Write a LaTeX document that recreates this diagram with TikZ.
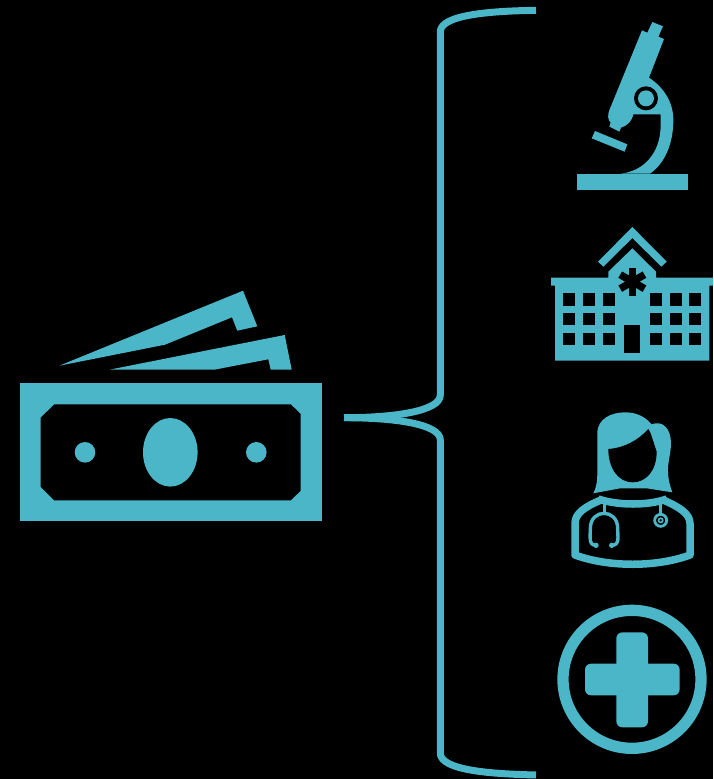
\documentclass[tikz,border=0pt]{standalone}
\definecolor{iconteal}{RGB}{74, 182, 200}
\usetikzlibrary{calc}
\tikzset{
    icon/.style={fill=iconteal,draw=none},
    cutout/.style={fill=black,draw=none},
    bracket/.style={draw=iconteal,line width=7pt},
    outline/.style={draw=iconteal,line width=7.5pt,line join=round},
    tube/.style={draw=iconteal,line width=3.4pt}
}

\begin{document}
\begin{tikzpicture}[x=1pt,y=-1pt]
    \useasboundingbox (0,0) rectangle (713,779);
    \fill[black] (0,0) rectangle (713,779);

    % money
    \fill[icon] (20,383.3) rectangle (321.7,520.7);
    \fill[cutout] (54.3,404.3) -- (290.7,404.3) -- (300.7,414) -- (300.7,490.7) -- (290.7,500.3)
        -- (54.3,500.3) -- (40.7,486.7) -- (40.7,417.7) -- cycle;
    \fill[icon] (170.3,452.3) ellipse (27.3 and 34.3);
    \fill[icon] (85,452.3) circle (10.3);
    \fill[icon] (256.3,452.3) circle (10.3);
    \fill[icon] (59.3,365.7) -- (243,290.7) -- (257.3,326.3) -- (237.3,330.7) -- (232,317.3) -- (165,344.7) -- cycle;
    \fill[icon] (109.3,369.7) -- (284.7,335) -- (291.7,369.7) -- (270.7,369.7) -- (268.3,359.3) -- (214.3,369.7) -- cycle;

    % bracket
    \coordinate (tip) at (344,417.7);
    \coordinate (top) at (536,10.3);
    \coordinate (bottom) at (536,775);
    \draw[bracket] (top) .. controls (495,11) and (440,14) .. (440.3,32) -- (440.3,395)
        .. controls (440.3,411) and (395,417.7) .. (tip);
    \draw[bracket] (tip) .. controls (395,417.7) and (440.3,424) .. (440.3,440) -- (440.3,753)
        .. controls (440,771) and (495,774) .. (bottom);

    % microscope
    \begin{scope}[shift={(540,10)},scale=1/3]
        \fill[icon] (111,491) rectangle (443,539);
        \fill[icon] (165,363) -- (262,403) -- (254,425) -- (155,385) -- cycle;
        \fill[icon] (306,61) -- (322,68) -- (337,36) -- (369,49) -- (355,80) -- (372,87) -- (327,203)
            .. controls (375,235) and (400,280) .. (400,330)
            .. controls (400,400) and (375,460) .. (330,491) -- (240,491)
            .. controls (310,485) and (362,430) .. (362,345) -- (362,313) -- (280,313)
            .. controls (275,335) and (262,347) .. (243,353) -- (238,365) -- (208,350) -- (212,338)
            .. controls (203,330) and (203,315) .. (207,303) -- cycle;
        \fill[cutout] (318,265) circle (36);
        \fill[icon] (318,265) circle (24);
    \end{scope}

    % hospital
    \begin{scope}[shift={(540,215)},scale=1/3]
        \fill[icon] (277,36) -- (380,140) -- (364,155) -- (277,69) -- (190,155) -- (174,140) -- cycle;
        \fill[icon] (277,100) -- (348,170) -- (348,188) -- (519,188) -- (519,212) -- (508,212) -- (508,437)
            -- (45,437) -- (45,212) -- (33,212) -- (33,188) -- (205,188) -- (205,170) -- cycle;
        \foreach \a in {0,60,120}
            \fill[cutout,rotate around={\a:(277,200)}] (266,158) rectangle (288,242);
        \foreach \x in {69,129,188,330,389,448}
            \foreach \y in {235,294,354}
                \fill[cutout] (\x,\y) rectangle ++(36,37);
        \fill[cutout] (253,331) rectangle (301,414);
    \end{scope}

    % doctor
    \begin{scope}[shift={(585,405)},scale=1/3]
        \fill[icon] (25,265) .. controls (37,240) and (37,220) .. (37,190) -- (37,85)
            .. controls (37,40) and (80,22) .. (120,22)
            .. controls (155,22) and (180,35) .. (200,58)
            .. controls (232,45) and (258,70) .. (258,115)
            .. controls (258,160) and (235,190) .. (262,262)
            -- (185,250) -- (105,250) -- cycle;
        \fill[cutout] (70,132) .. controls (120,128) and (160,105) .. (190,72)
            -- (197,85) -- (215,140) .. controls (215,195) and (185,232) .. (143,232)
            .. controls (100,232) and (70,190) .. (70,132) -- cycle;
    \end{scope}
    \begin{scope}[shift={(565,490)},scale=1/3]
        \draw[outline] (108,30) .. controls (60,50) and (30,70) .. (30,100) -- (30,195)
            .. controls (130,232) and (275,232) .. (375,195) -- (375,100)
            .. controls (375,70) and (340,50) .. (295,30);
        \draw[outline] (100,27) .. controls (160,47) and (250,47) .. (305,27);
        \draw[tube] (118,35) -- (118,72);
        \draw[tube] (93,166) .. controls (70,166) and (76,140) .. (76,115)
            .. controls (76,55) and (158,55) .. (158,115)
            .. controls (158,140) and (165,166) .. (140,166);
        \fill[icon] (93,166) circle (8);
        \fill[icon] (140,166) circle (8);
        \draw[tube] (287,35) -- (287,72);
        \draw[draw=iconteal,line width=2.8pt] (287,91) circle (18);
        \draw[draw=iconteal,line width=1.6pt] (287,91) circle (6.3);
    \end{scope}

    % plus
    \begin{scope}[shift={(550,595)},scale=1/3]
        \draw[draw=iconteal,line width=11.3pt] (246,253) circle (207);
        \fill[icon,rounded corners=6pt] (199,112) rectangle (294,397);
        \fill[icon,rounded corners=6pt] (105,206) rectangle (389,301);
    \end{scope}
\end{tikzpicture}
\end{document}
